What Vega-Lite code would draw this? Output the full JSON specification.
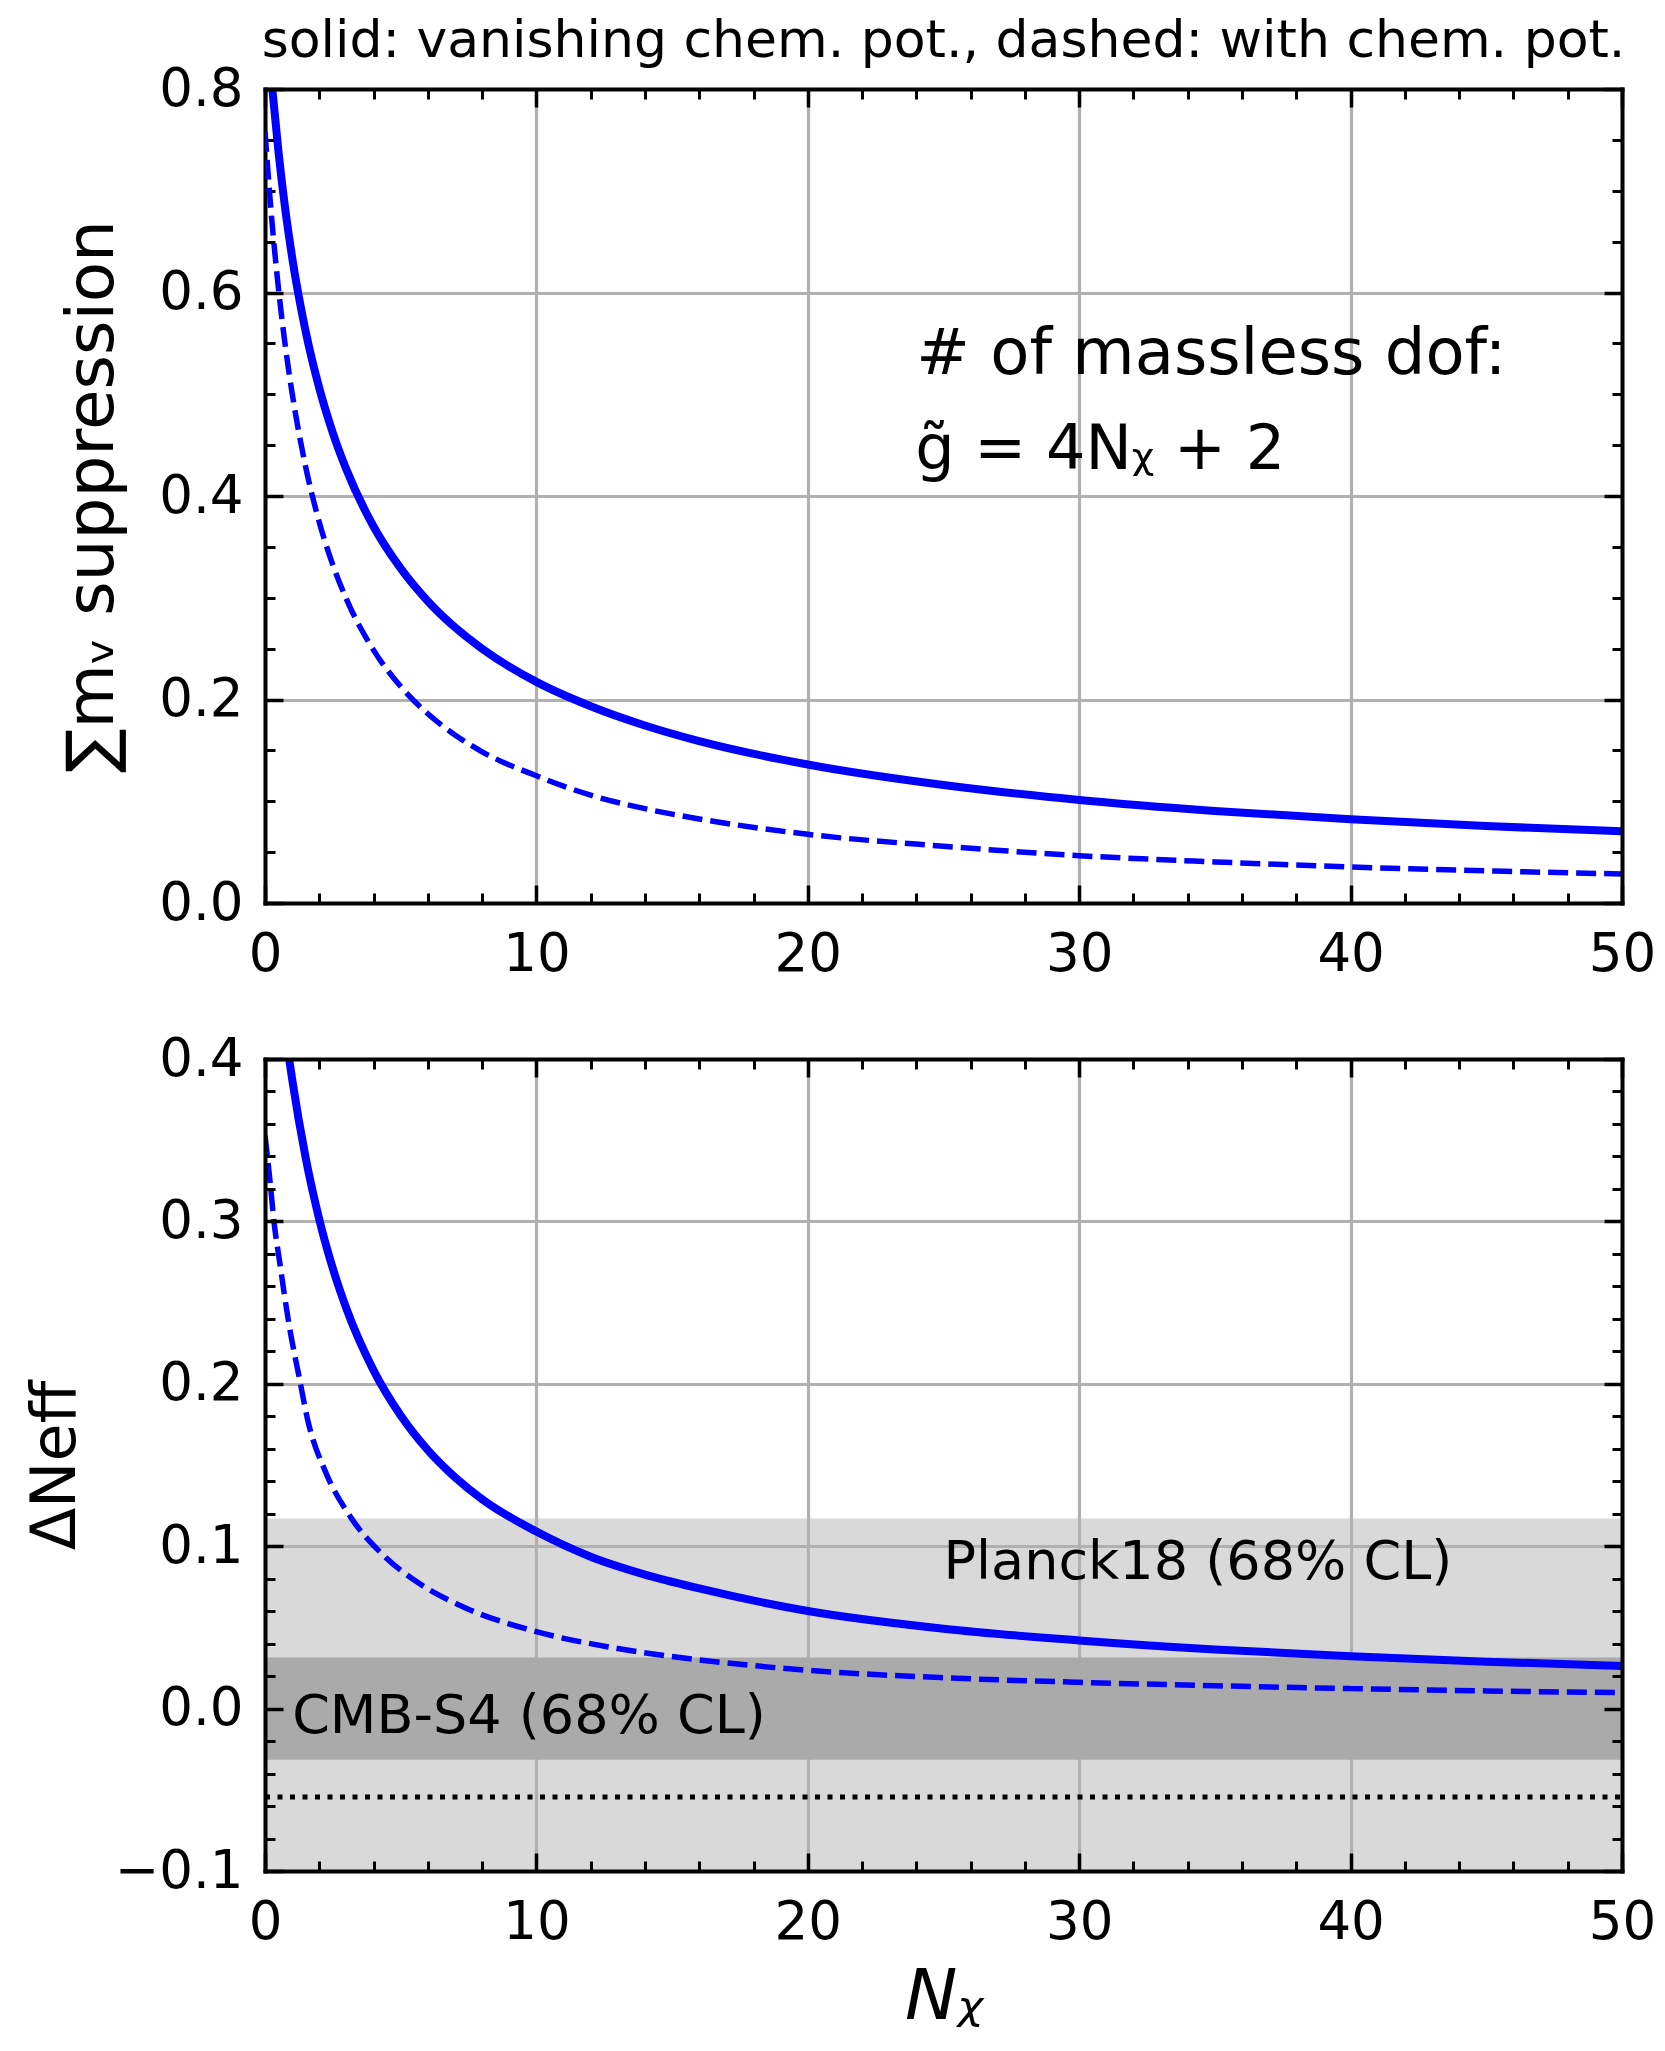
{
  "$schema": "https://vega.github.io/schema/vega-lite/v6.json",
  "background": "white",
  "padding": {"left": 24, "top": 15, "right": 5, "bottom": 0},
  "config": {
    "font": "DejaVu Sans",
    "view": {"stroke": null},
    "axis": {"labelFont": "DejaVu Sans", "titleFont": "DejaVu Sans", "labelColor": "black", "titleColor": "black", "titleFontWeight": "normal"},
    "title": {"font": "DejaVu Sans", "fontWeight": "normal", "color": "black"},
    "text": {"font": "DejaVu Sans", "color": "black"}
  },
  "datasets": {
    "topSolid": [
      {"N": 0.27, "v": 0.80}, {"N": 0.5, "v": 0.7375}, {"N": 0.75, "v": 0.681}, {"N": 1.0, "v": 0.6346},
      {"N": 1.5, "v": 0.5615}, {"N": 2, "v": 0.506}, {"N": 2.5, "v": 0.462}, {"N": 3, "v": 0.426},
      {"N": 4, "v": 0.370}, {"N": 5, "v": 0.3288}, {"N": 6, "v": 0.2966}, {"N": 7, "v": 0.2709},
      {"N": 8, "v": 0.2499}, {"N": 10, "v": 0.2173}, {"N": 12, "v": 0.1934}, {"N": 14, "v": 0.1745},
      {"N": 16, "v": 0.1591}, {"N": 20, "v": 0.1361}, {"N": 25, "v": 0.116}, {"N": 30, "v": 0.1013},
      {"N": 35, "v": 0.0905}, {"N": 40, "v": 0.0822}, {"N": 45, "v": 0.0756}, {"N": 50, "v": 0.0704}
    ],
    "topDashed": [
      {"N": 0, "v": 0.758}, {"N": 0.25, "v": 0.6716}, {"N": 0.5, "v": 0.603}, {"N": 0.75, "v": 0.547},
      {"N": 1.0, "v": 0.501}, {"N": 1.5, "v": 0.4284}, {"N": 2, "v": 0.3743}, {"N": 2.5, "v": 0.3322},
      {"N": 3, "v": 0.2987}, {"N": 4, "v": 0.2485}, {"N": 5, "v": 0.2128}, {"N": 6, "v": 0.186},
      {"N": 7, "v": 0.1652}, {"N": 8, "v": 0.1486}, {"N": 10, "v": 0.125}, {"N": 12, "v": 0.106},
      {"N": 14, "v": 0.0927}, {"N": 16, "v": 0.0826}, {"N": 20, "v": 0.0675}, {"N": 25, "v": 0.0558},
      {"N": 30, "v": 0.0465}, {"N": 35, "v": 0.0404}, {"N": 40, "v": 0.0354}, {"N": 45, "v": 0.0316},
      {"N": 50, "v": 0.0285}
    ],
    "botSolid": [
      {"N": 0.89, "v": 0.40}, {"N": 1.0, "v": 0.3876}, {"N": 1.5, "v": 0.339}, {"N": 2, "v": 0.3012},
      {"N": 2.5, "v": 0.271}, {"N": 3, "v": 0.2463}, {"N": 4, "v": 0.2083}, {"N": 5, "v": 0.1805},
      {"N": 6, "v": 0.1592}, {"N": 7, "v": 0.1425}, {"N": 8, "v": 0.1289}, {"N": 10, "v": 0.109},
      {"N": 12, "v": 0.0935}, {"N": 14, "v": 0.0825}, {"N": 16, "v": 0.074}, {"N": 20, "v": 0.0601},
      {"N": 25, "v": 0.0492}, {"N": 30, "v": 0.042}, {"N": 35, "v": 0.0364}, {"N": 40, "v": 0.0322},
      {"N": 45, "v": 0.0289}, {"N": 50, "v": 0.0263}
    ],
    "botDashed": [
      {"N": 0, "v": 0.353}, {"N": 0.19, "v": 0.324}, {"N": 0.33, "v": 0.300}, {"N": 0.54, "v": 0.275},
      {"N": 0.89, "v": 0.236}, {"N": 1.26, "v": 0.204}, {"N": 1.57, "v": 0.178}, {"N": 2.25, "v": 0.145},
      {"N": 3.11, "v": 0.119}, {"N": 4.35, "v": 0.0946}, {"N": 5.58, "v": 0.0782}, {"N": 7.43, "v": 0.0617},
      {"N": 10, "v": 0.0474}, {"N": 13, "v": 0.037}, {"N": 16, "v": 0.030}, {"N": 20, "v": 0.0236},
      {"N": 25, "v": 0.019}, {"N": 30, "v": 0.0162}, {"N": 35, "v": 0.0141}, {"N": 40, "v": 0.0123},
      {"N": 45, "v": 0.0109}, {"N": 50, "v": 0.0098}
    ],
    "planck": [{"x0": 0, "x1": 50, "lo": -0.225, "hi": 0.117}],
    "cmb": [{"x0": 0, "x1": 50, "lo": -0.0315, "hi": 0.0315}],
    "central": [{"x0": 0, "x1": 50, "y": -0.0545}],
    "topText1": [{"N": 24.0, "v": 0.52, "label": "# of massless dof:"}],
    "topText2": [{"N": 23.96, "v": 0.427, "label": "g̃ = 4Nᵪ + 2"}],
    "planckText": [{"N": 25.0, "v": 0.080, "label": "Planck18 (68% CL)"}],
    "cmbText": [{"N": 1.0, "v": -0.0152, "label": "CMB-S4 (68% CL)"}]
  },
  "spacing": 156,
  "bounds": "flush",
  "vconcat": [
    {
      "width": 1357,
      "height": 814,
      "title": {"text": "solid: vanishing chem. pot., dashed: with chem. pot.", "fontSize": 52, "anchor": "middle", "frame": "group", "offset": -46, "baseline": "alphabetic"},
      "resolve": {"axis": {"x": "independent", "y": "independent"}},
      "layer": [
        {
          "data": {"name": "topSolid"},
          "mark": {"type": "line", "color": "#0000ff", "strokeWidth": 8, "interpolate": "monotone", "clip": true},
          "encoding": {
            "x": {"field": "N", "type": "quantitative", "scale": {"domain": [0, 50], "nice": false, "zero": false},
              "axis": {"orient": "bottom", "values": [0, 10, 20, 30, 40, 50], "format": "d", "title": null, "labelFontSize": 53, "labelPadding": 43, "labelFlush": false, "labelOverlap": false, "tickSize": -18, "tickWidth": 3.5, "tickColor": "black", "domain": true, "domainColor": "black", "domainWidth": 4, "domainCap": "square", "grid": true, "gridColor": "#b0b0b0", "gridWidth": 3.2, "zindex": 0}},
            "y": {"field": "v", "type": "quantitative", "scale": {"domain": [0, 0.8], "nice": false, "zero": false},
              "axis": {"orient": "left", "values": [0, 0.2, 0.4, 0.6, 0.8], "format": ".1f", "title": "∑mᵥ suppression", "titleFontSize": 66, "titlePadding": 32, "labelFontSize": 53, "labelPadding": 40, "labelFlush": false, "labelOverlap": false, "tickSize": -18, "tickWidth": 3.5, "tickColor": "black", "domain": true, "domainColor": "black", "domainWidth": 4, "domainCap": "square", "grid": true, "gridColor": "#b0b0b0", "gridWidth": 3.2, "zindex": 0}}
          }
        },
        {
          "data": {"name": "topDashed"},
          "mark": {"type": "line", "color": "#0000ff", "strokeWidth": 5.5, "strokeDash": [20, 8], "interpolate": "monotone", "clip": true},
          "encoding": {
            "x": {"field": "N", "type": "quantitative", "scale": {"domain": [0, 50], "nice": false, "zero": false},
              "axis": {"orient": "bottom", "values": [2, 4, 6, 8, 12, 14, 16, 18, 22, 24, 26, 28, 32, 34, 36, 38, 42, 44, 46, 48], "labels": false, "title": null, "tickSize": -10, "tickWidth": 3, "tickColor": "black", "domain": false, "grid": false, "zindex": 0}},
            "y": {"field": "v", "type": "quantitative", "scale": {"domain": [0, 0.8], "nice": false, "zero": false},
              "axis": {"orient": "left", "values": [0.05, 0.1, 0.15, 0.25, 0.3, 0.35, 0.45, 0.5, 0.55, 0.65, 0.7, 0.75], "labels": false, "title": null, "tickSize": -10, "tickWidth": 3, "tickColor": "black", "domain": false, "grid": false, "zindex": 0}}
          }
        },
        {
          "data": {"name": "topText1"},
          "mark": {"type": "text", "fontSize": 64, "align": "left", "baseline": "alphabetic", "color": "black"},
          "encoding": {
            "text": {"field": "label"},
            "x": {"field": "N", "type": "quantitative", "scale": {"domain": [0, 50], "nice": false, "zero": false},
              "axis": {"orient": "top", "values": [0, 10, 20, 30, 40, 50], "labels": false, "title": null, "tickSize": -18, "tickWidth": 3.5, "tickColor": "black", "domain": true, "domainColor": "black", "domainWidth": 4, "domainCap": "square", "grid": false, "zindex": 1}},
            "y": {"field": "v", "type": "quantitative", "scale": {"domain": [0, 0.8], "nice": false, "zero": false},
              "axis": {"orient": "right", "values": [0, 0.2, 0.4, 0.6, 0.8], "labels": false, "title": null, "tickSize": -18, "tickWidth": 3.5, "tickColor": "black", "domain": true, "domainColor": "black", "domainWidth": 4, "domainCap": "square", "grid": false, "zindex": 1}}
          }
        },
        {
          "data": {"name": "topText2"},
          "mark": {"type": "text", "fontSize": 62, "align": "left", "baseline": "alphabetic", "color": "black"},
          "encoding": {
            "text": {"field": "label"},
            "x": {"field": "N", "type": "quantitative", "scale": {"domain": [0, 50], "nice": false, "zero": false},
              "axis": {"orient": "top", "values": [2, 4, 6, 8, 12, 14, 16, 18, 22, 24, 26, 28, 32, 34, 36, 38, 42, 44, 46, 48], "labels": false, "title": null, "tickSize": -10, "tickWidth": 3, "tickColor": "black", "domain": false, "grid": false, "zindex": 1}},
            "y": {"field": "v", "type": "quantitative", "scale": {"domain": [0, 0.8], "nice": false, "zero": false},
              "axis": {"orient": "right", "values": [0.05, 0.1, 0.15, 0.25, 0.3, 0.35, 0.45, 0.5, 0.55, 0.65, 0.7, 0.75], "labels": false, "title": null, "tickSize": -10, "tickWidth": 3, "tickColor": "black", "domain": false, "grid": false, "zindex": 1}}
          }
        }
      ]
    },
    {
      "width": 1357,
      "height": 812,
      "resolve": {"axis": {"x": "independent", "y": "independent"}},
      "layer": [
        {
          "data": {"name": "planck"},
          "mark": {"type": "rect", "color": "#b0b0b0", "opacity": 0.48, "clip": true},
          "encoding": {
            "x": {"field": "x0", "type": "quantitative", "scale": {"domain": [0, 50], "nice": false, "zero": false},
              "axis": {"orient": "bottom", "values": [0, 10, 20, 30, 40, 50], "labels": false, "ticks": false, "domain": false, "title": null, "grid": true, "gridColor": "#b0b0b0", "gridWidth": 3.2, "zindex": 0}},
            "x2": {"field": "x1"},
            "y": {"field": "lo", "type": "quantitative", "scale": {"domain": [-0.1, 0.4], "nice": false, "zero": false},
              "axis": {"orient": "left", "values": [-0.1, 0, 0.1, 0.2, 0.3, 0.4], "labels": false, "ticks": false, "domain": false, "title": null, "grid": true, "gridColor": "#b0b0b0", "gridWidth": 3.2, "zindex": 0}},
            "y2": {"field": "hi"}
          }
        },
        {
          "data": {"name": "cmb"},
          "mark": {"type": "rect", "color": "#aaaaaa", "opacity": 1, "clip": true},
          "encoding": {
            "x": {"field": "x0", "type": "quantitative", "scale": {"domain": [0, 50], "nice": false, "zero": false},
              "axis": {"orient": "bottom", "values": [0, 10, 20, 30, 40, 50], "format": "d", "title": "Nᵪ", "titleFontSize": 70, "titleFontStyle": "italic", "titlePadding": 14, "labelFontSize": 53, "labelPadding": 43, "labelFlush": false, "labelOverlap": false, "tickSize": -18, "tickWidth": 3.5, "tickColor": "black", "domain": true, "domainColor": "black", "domainWidth": 4, "domainCap": "square", "grid": false, "zindex": 1}},
            "x2": {"field": "x1"},
            "y": {"field": "lo", "type": "quantitative", "scale": {"domain": [-0.1, 0.4], "nice": false, "zero": false},
              "axis": {"orient": "left", "values": [-0.1, 0, 0.1, 0.2, 0.3, 0.4], "format": ".1f", "title": "ΔNeff", "titleFontSize": 62, "titlePadding": 27, "labelFontSize": 53, "labelPadding": 40, "labelFlush": false, "labelOverlap": false, "tickSize": -18, "tickWidth": 3.5, "tickColor": "black", "domain": true, "domainColor": "black", "domainWidth": 4, "domainCap": "square", "grid": false, "zindex": 1}},
            "y2": {"field": "hi"}
          }
        },
        {
          "data": {"name": "central"},
          "mark": {"type": "rule", "color": "black", "strokeWidth": 5, "strokeDash": [5, 7.5], "clip": true},
          "encoding": {
            "x": {"field": "x0", "type": "quantitative", "scale": {"domain": [0, 50], "nice": false, "zero": false},
              "axis": {"orient": "bottom", "values": [2, 4, 6, 8, 12, 14, 16, 18, 22, 24, 26, 28, 32, 34, 36, 38, 42, 44, 46, 48], "labels": false, "title": null, "tickSize": -10, "tickWidth": 3, "tickColor": "black", "domain": false, "grid": false, "zindex": 1}},
            "x2": {"field": "x1"},
            "y": {"field": "y", "type": "quantitative", "scale": {"domain": [-0.1, 0.4], "nice": false, "zero": false},
              "axis": {"orient": "left", "values": [-0.08, -0.06, -0.04, -0.02, 0.02, 0.04, 0.06, 0.08, 0.12, 0.14, 0.16, 0.18, 0.22, 0.24, 0.26, 0.28, 0.32, 0.34, 0.36, 0.38], "labels": false, "title": null, "tickSize": -10, "tickWidth": 3, "tickColor": "black", "domain": false, "grid": false, "zindex": 1}}
          }
        },
        {
          "data": {"name": "botSolid"},
          "mark": {"type": "line", "color": "#0000ff", "strokeWidth": 8, "interpolate": "monotone", "clip": true},
          "encoding": {
            "x": {"field": "N", "type": "quantitative", "scale": {"domain": [0, 50], "nice": false, "zero": false},
              "axis": {"orient": "top", "values": [0, 10, 20, 30, 40, 50], "labels": false, "title": null, "tickSize": -18, "tickWidth": 3.5, "tickColor": "black", "domain": true, "domainColor": "black", "domainWidth": 4, "domainCap": "square", "grid": false, "zindex": 1}},
            "y": {"field": "v", "type": "quantitative", "scale": {"domain": [-0.1, 0.4], "nice": false, "zero": false},
              "axis": {"orient": "right", "values": [-0.1, 0, 0.1, 0.2, 0.3, 0.4], "labels": false, "title": null, "tickSize": -18, "tickWidth": 3.5, "tickColor": "black", "domain": true, "domainColor": "black", "domainWidth": 4, "domainCap": "square", "grid": false, "zindex": 1}}
          }
        },
        {
          "data": {"name": "botDashed"},
          "mark": {"type": "line", "color": "#0000ff", "strokeWidth": 5.5, "strokeDash": [20, 8], "interpolate": "monotone", "clip": true},
          "encoding": {
            "x": {"field": "N", "type": "quantitative", "scale": {"domain": [0, 50], "nice": false, "zero": false},
              "axis": {"orient": "top", "values": [2, 4, 6, 8, 12, 14, 16, 18, 22, 24, 26, 28, 32, 34, 36, 38, 42, 44, 46, 48], "labels": false, "title": null, "tickSize": -10, "tickWidth": 3, "tickColor": "black", "domain": false, "grid": false, "zindex": 1}},
            "y": {"field": "v", "type": "quantitative", "scale": {"domain": [-0.1, 0.4], "nice": false, "zero": false},
              "axis": {"orient": "right", "values": [-0.08, -0.06, -0.04, -0.02, 0.02, 0.04, 0.06, 0.08, 0.12, 0.14, 0.16, 0.18, 0.22, 0.24, 0.26, 0.28, 0.32, 0.34, 0.36, 0.38], "labels": false, "title": null, "tickSize": -10, "tickWidth": 3, "tickColor": "black", "domain": false, "grid": false, "zindex": 1}}
          }
        },
        {
          "data": {"name": "planckText"},
          "mark": {"type": "text", "fontSize": 54, "align": "left", "baseline": "alphabetic", "color": "black"},
          "encoding": {
            "text": {"field": "label"},
            "x": {"field": "N", "type": "quantitative", "scale": {"domain": [0, 50], "nice": false, "zero": false}, "axis": null},
            "y": {"field": "v", "type": "quantitative", "scale": {"domain": [-0.1, 0.4], "nice": false, "zero": false}, "axis": null}
          }
        },
        {
          "data": {"name": "cmbText"},
          "mark": {"type": "text", "fontSize": 54, "align": "left", "baseline": "alphabetic", "color": "black"},
          "encoding": {
            "text": {"field": "label"},
            "x": {"field": "N", "type": "quantitative", "scale": {"domain": [0, 50], "nice": false, "zero": false}, "axis": null},
            "y": {"field": "v", "type": "quantitative", "scale": {"domain": [-0.1, 0.4], "nice": false, "zero": false}, "axis": null}
          }
        }
      ]
    }
  ]
}
